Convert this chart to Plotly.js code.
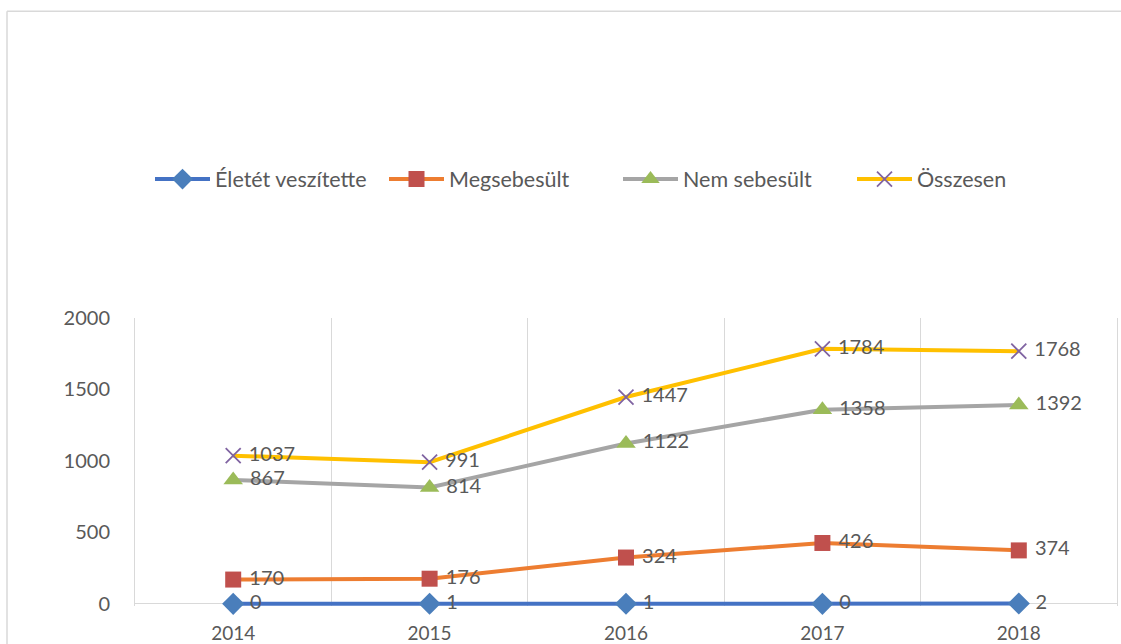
<!DOCTYPE html>
<html>
<head>
<meta charset="utf-8">
<script src="https://cdn.plot.ly/plotly-3.0.1.min.js"></script>
<style>html,body{margin:0;padding:0;background:#fff;}#chart{width:1121px;height:644px;}</style>
</head>
<body>
<div id="chart"></div>
<script>
var years = ["2014", "2015", "2016", "2017", "2018"];
var seriesNames = ["Életét veszítette", "Megsebesült", "Nem sebesült", "Összesen"];
var eletetVeszitette = [0, 1, 1, 0, 2];
var megsebesult = [170, 176, 324, 426, 374];
var nemSebesult = [867, 814, 1122, 1358, 1392];
var osszesen = [1037, 991, 1447, 1784, 1768];
var yTicks = [0, 500, 1000, 1500, 2000];

var font = "Lato, 'Open Sans', sans-serif";
var labelColor = "#595959";

function mk(name, vals, lineColor, symbol, size, markerColor) {
  var m = {symbol: symbol, size: size, color: markerColor};
  if (symbol === "x-thin") m.line = {color: markerColor, width: 1.8};
  return {
    type: "scatter", mode: "lines+markers+text", name: name,
    x: years, y: vals,
    text: vals.map(String), texttemplate: "\u00a0%{text}", textposition: "middle right",
    textfont: {family: font, size: 20, color: labelColor},
    line: {color: lineColor, width: 4},
    marker: m, cliponaxis: false
  };
}

var data = [
  mk(seriesNames[0], eletetVeszitette, "#4472C4", "diamond", 17, "#4A7EBB"),
  mk(seriesNames[1], megsebesult, "#ED7D31", "square", 16, "#C0504D"),
  mk(seriesNames[2], nemSebesult, "#A5A5A5", "triangle-up", 17, "#9BBB59"),
  mk(seriesNames[3], osszesen, "#FFC000", "x-thin", 15, "#8064A2")
];

var L = 135, R = 1117, T = 318, B = 604;
var W = R - L;
var yMin = -15;
var pxPerUnit = (B - T) / 2000;
var Bext = B + (-yMin) * pxPerUnit;
var H = Bext - T;

var frameL = (7 - L) / W, frameR = (1130 - L) / W;
var frameT = (Bext - 11) / H, frameB = (Bext - 660) / H;

var layout = {
  width: 1121, height: 644,
  margin: {l: L, r: 1121 - R, t: T, b: 644 - Bext},
  paper_bgcolor: "#fff", plot_bgcolor: "#fff",
  font: {family: font, color: labelColor},
  showlegend: true,
  legend: {
    orientation: "h", x: (150 - L) / W, xanchor: "left",
    y: (Bext - 179) / H, yanchor: "middle",
    font: {family: font, size: 21.5, color: labelColor},
    itemwidth: 55, entrywidth: 164, traceorder: "normal"
  },
  xaxis: {
    type: "category", range: [-0.5, 4.5], tickson: "boundaries", showgrid: true,
    gridcolor: "#d9d9d9", gridwidth: 1,
    showline: false, ticks: "", zeroline: false,
    tickfont: {family: font, size: 19, color: labelColor},
    ticklabelstandoff: 14, fixedrange: true
  },
  yaxis: {
    range: [yMin, 2000], tickvals: yTicks, ticktext: yTicks.map(String),
    showgrid: false, zeroline: true, zerolinecolor: "#d9d9d9", zerolinewidth: 1,
    showline: true, mirror: true, linecolor: "#d9d9d9", linewidth: 1,
    ticks: "",
    tickfont: {family: font, size: 20, color: labelColor},
    ticklabelstandoff: 20, fixedrange: true
  },
  shapes: [
    {type: "line", xref: "paper", yref: "paper", x0: frameL, x1: frameR, y0: frameT, y1: frameT,
     line: {color: "#d9d9d9", width: 1.5}, layer: "below"},
    {type: "line", xref: "paper", yref: "paper", x0: frameL, x1: frameL, y0: frameT, y1: frameB,
     line: {color: "#d9d9d9", width: 1.5}, layer: "below"}
  ]
};

Plotly.newPlot("chart", data, layout, {displayModeBar: false, staticPlot: true});
</script>
</body>
</html>
